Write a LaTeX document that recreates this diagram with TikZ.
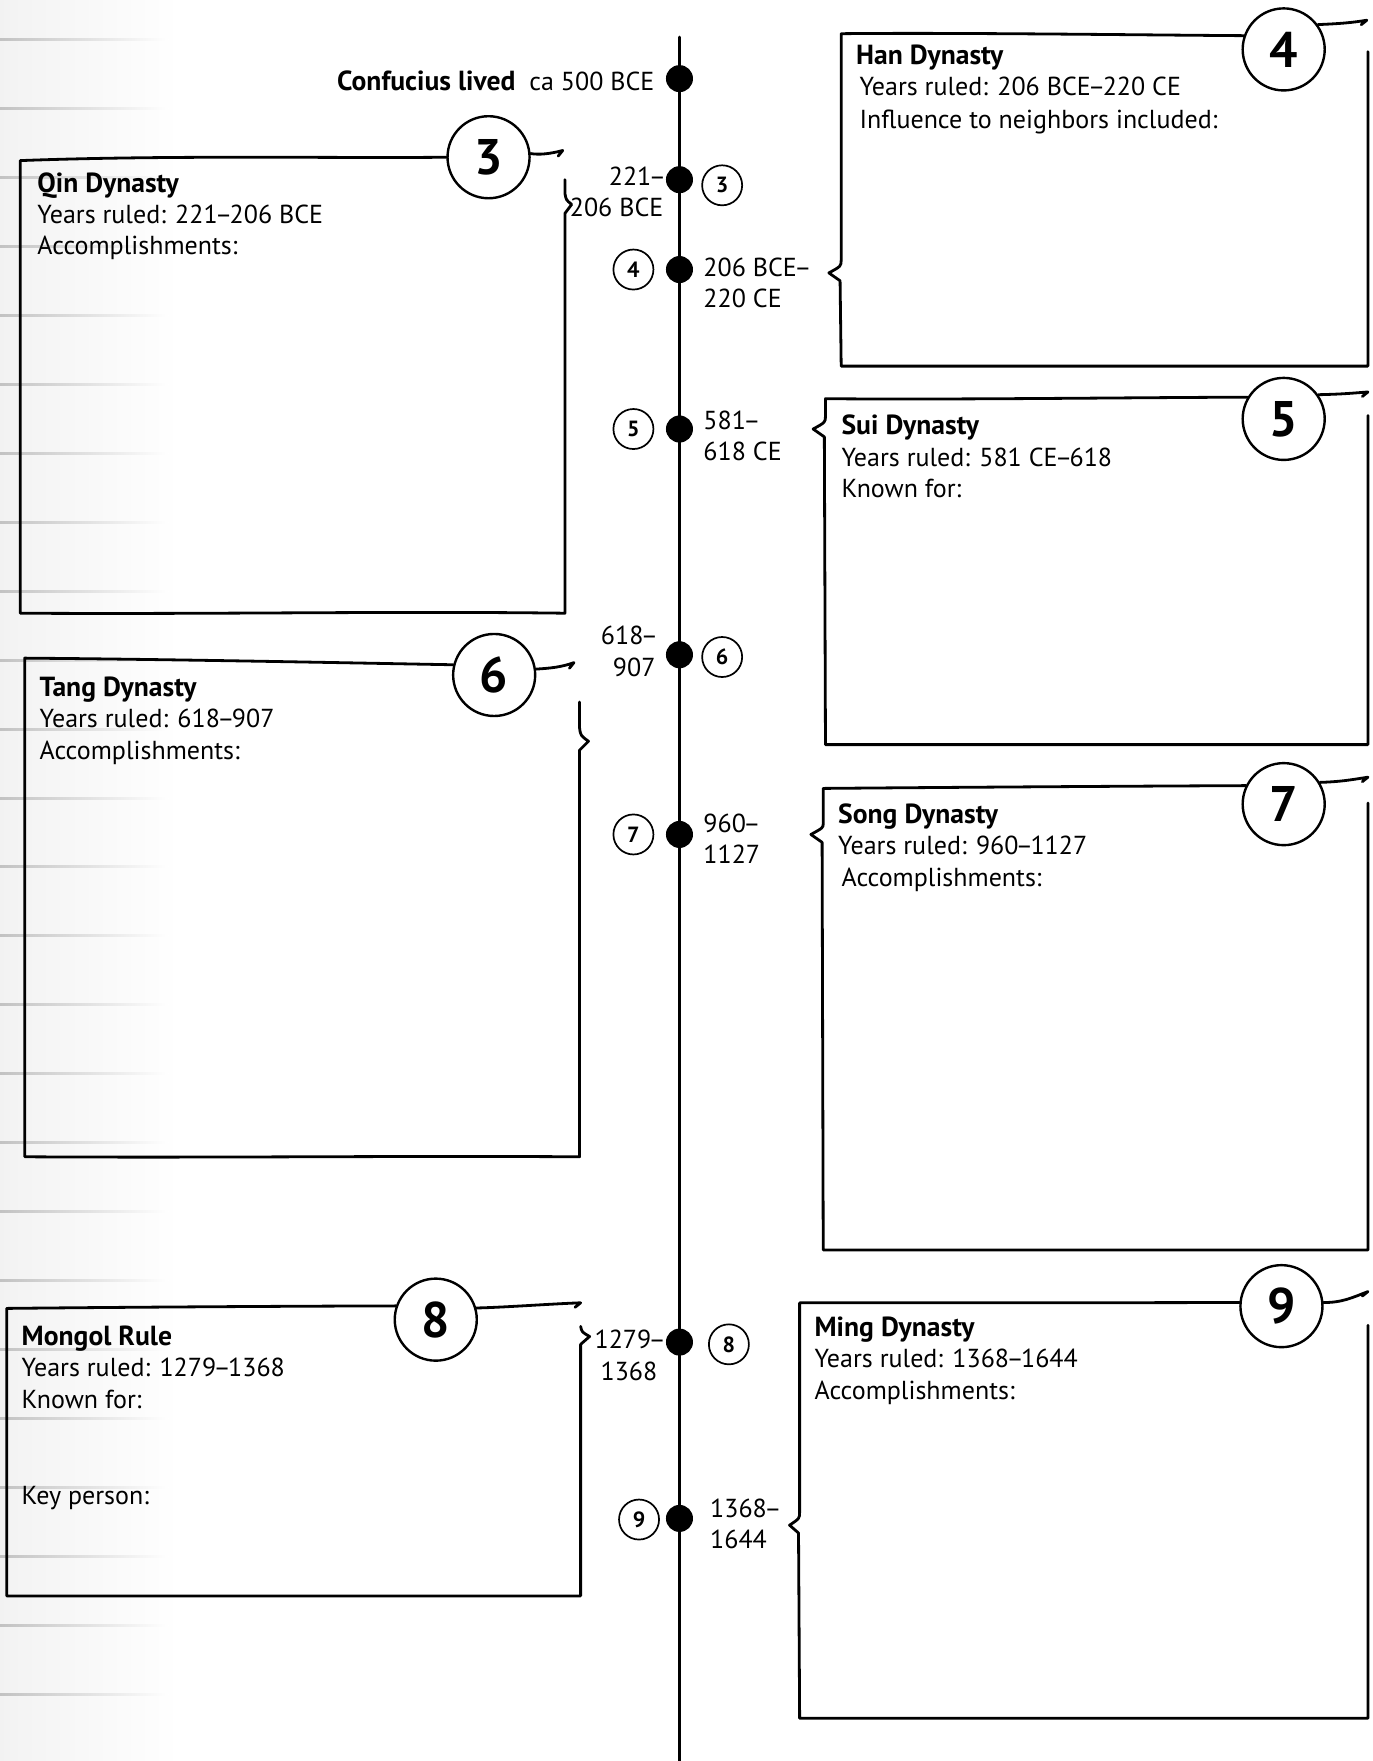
\documentclass[tikz,border=0pt]{standalone}
\usepackage{fontspec}
\setmainfont{PT Sans}
\newcommand\nd{\kern-0.1em--\kern-0.1em}
\begin{document}
\begin{tikzpicture}[x=0.5613pt,y=-0.5613pt,
  ln/.style={line width=1.4pt, line cap=round, line join=round},
  bigc/.style={circle, draw, line width=1.2pt, minimum size=41pt, inner sep=0pt, font=\fontsize{25}{25}\selectfont\bfseries},
  smallc/.style={circle, draw, line width=0.85pt, minimum size=20pt, inner sep=0pt, font=\fontsize{11}{11}\selectfont\bfseries},
  dot/.style={circle, fill=black, minimum width=12.5pt, minimum height=13.5pt, inner sep=0pt},
  txt/.style={font=\fontsize{13}{15.7}\selectfont, inner sep=0pt, anchor=base west},
  hd/.style={font=\fontsize{13.8}{15.7}\selectfont\bfseries, inner sep=0pt, anchor=base west},
  date/.style={font=\fontsize{13}{15.7}\selectfont, inner sep=0pt}
]
\useasboundingbox (0,0) rectangle (1222,1568);
\fill[white] (0,0) rectangle (1222,1568);
\shade[left color=black!5, right color=white] (0,0) rectangle (160,1568);
\foreach \k in {0,...,25} {
  \shade[left color=black!24, right color=white] (0,{34.6+61.37*\k}) rectangle (150,{36.4+61.37*\k});
}

% timeline
\coordinate (ttop) at (605,33);
\coordinate (tbot) at (605,1568);
\draw[ln] (ttop) -- (tbot);

\node[dot] (d0) at (605,70) {};
\node[dot] (d3) at (605,160) {};
\node[dot] (d4) at (605,240) {};
\node[dot] (d5) at (605,382) {};
\node[dot] (d6) at (605,583) {};
\node[dot] (d7) at (605,743) {};
\node[dot] (d8) at (605,1195) {};
\node[dot] (d9) at (605,1352) {};

\node[smallc] (s3) at (643,165) {3};
\node[smallc] (s4) at (564,240) {4};
\node[smallc] (s5) at (564,382) {5};
\node[smallc] (s6) at (643,585) {6};
\node[smallc] (s7) at (564,743) {7};
\node[smallc] (s8) at (649,1197) {8};
\node[smallc] (s9) at (569,1353) {9};

% dates
\node[date, anchor=east] (conf) at (583,72) {\fontsize{13.8}{15.7}\selectfont\textbf{Confucius lived}\hspace{0.5em}\fontsize{13}{15.7}\selectfont ca 500 BCE};
\node[date, anchor=east, align=right] (t3) at (591,171) {221\nd\\206 BCE};
\node[date, anchor=west, align=left] (t4) at (626,252) {206 BCE\nd\\220 CE};
\node[date, anchor=west, align=left] (t5) at (626,388) {581\nd\\618 CE};
\node[date, anchor=east, align=right] (t6) at (584,580) {618\nd\\907};
\node[date, anchor=west, align=left] (t7) at (626,747) {960\nd\\1127};
\node[date, align=center] (t8) at (560,1207) {1279\nd\\1368};
\node[date, anchor=west, align=left] (t9) at (632,1357) {1368\nd\\1644};

% Qin
\node[bigc] (c3) at (435,140) {3};
\draw[ln] (c3.180) .. controls (300,141) and (150,138) .. (18,143) -- (18,546)
  .. controls (200,547) and (350,544) .. (503,546) -- (503,190) -- (509,182) .. controls (504,178) .. (503,172) -- (503,160);
\draw[ln] (c3.5) .. controls (480,138) and (490,137) .. (501,134) -- (497,139);
\node[hd] (q1) at (33,171) {Qin Dynasty};
\node[txt] (q2) at (33,199) {Years ruled: 221\nd 206 BCE};
\node[txt] (q3) at (33,227) {Accomplishments:};

% Han
\node[bigc] (c4) at (1143,44) {4};
\draw[ln] (c4.161) .. controls (1000,31) and (850,29) .. (749,30) -- (749,231)
  .. controls (749,237) .. (738,243) -- (748,250) -- (749,326) -- (1218,326) -- (1218,46);
\draw[ln] (c4.36) .. controls (1195,21) and (1205,20) .. (1217,18) -- (1212,22);
\node[hd] (h1) at (762,57) {Han Dynasty};
\node[txt] (h2) at (765,85) {Years ruled: 206 BCE\nd 220 CE};
\node[txt] (h3) at (765,114) {Influence to neighbors included:};

% Sui
\node[bigc] (c5) at (1143,373) {5};
\draw[ln] (c5.149) .. controls (1000,354) and (850,356) .. (735,355) -- (735,370)
  .. controls (735,376) .. (724,382) -- (734,389) -- (735,663) -- (1218,663) -- (1218,370);
\draw[ln] (c5.35) .. controls (1195,351) and (1205,350) .. (1218,349) -- (1213,353);
\node[hd] (u1) at (749,387) {Sui Dynasty};
\node[txt] (u2) at (749,415) {Years ruled: 581 CE\nd 618};
\node[txt] (u3) at (749,443) {Known for:};

% Tang
\node[bigc] (c6) at (440,601) {6};
\draw[ln] (c6.166) .. controls (300,590) and (150,587) .. (22,586) -- (22,1030)
  .. controls (200,1031) and (350,1029) .. (516,1030) -- (516,668) -- (524,660) .. controls (517,655) .. (516,648) -- (516,625);
\draw[ln] (c6.8) .. controls (490,595) and (500,594) .. (511,590) -- (507,595);
\node[hd] (g1) at (35,620) {Tang Dynasty};
\node[txt] (g2) at (35,648) {Years ruled: 618\nd 907};
\node[txt] (g3) at (35,676) {Accomplishments:};

% Song
\node[bigc] (c7) at (1143,716) {7};
\draw[ln] (c7.154) .. controls (1000,700) and (850,701) .. (733,702) -- (733,733)
  .. controls (733,737) .. (722,743) -- (732,750) -- (733,1113) -- (1218,1113) -- (1218,715);
\draw[ln] (c7.31) .. controls (1195,696) and (1205,694) .. (1218,692) -- (1213,696);
\node[hd] (o1) at (746,733) {Song Dynasty};
\node[txt] (o2) at (746,761) {Years ruled: 960\nd 1127};
\node[txt] (o3) at (749,789) {Accomplishments:};

% Mongol
\node[bigc] (c8) at (388,1175) {8};
\draw[ln] (c8.161) .. controls (250,1163) and (100,1164) .. (6,1165) -- (6,1421)
  -- (517,1421) -- (517,1197) -- (525,1190) .. controls (518,1186) .. (517,1181);
\draw[ln] (c8.16) .. controls (450,1164) and (490,1161) .. (517,1160) -- (512,1164);
\node[hd] (m1) at (19,1198) {Mongol Rule};
\node[txt] (m2) at (19,1226) {Years ruled: 1279\nd 1368};
\node[txt] (m3) at (19,1254) {Known for:};
\node[txt] (m4) at (19,1340) {Key person:};

% Ming
\node[bigc] (c9) at (1141,1163) {9};
\draw[ln] (c9.175) .. controls (1000,1160) and (850,1160) .. (712,1160) -- (712,1346)
  .. controls (712,1352) .. (703,1358) -- (711,1365) -- (712,1530) -- (1218,1530) -- (1218,1180);
\draw[ln] (c9.5) .. controls (1195,1160) and (1205,1155) .. (1218,1150) -- (1213,1154);
\node[hd] (n1) at (725,1190) {Ming Dynasty};
\node[txt] (n2) at (725,1218) {Years ruled: 1368\nd 1644};
\node[txt] (n3) at (725,1246) {Accomplishments:};
\end{tikzpicture}
\end{document}
